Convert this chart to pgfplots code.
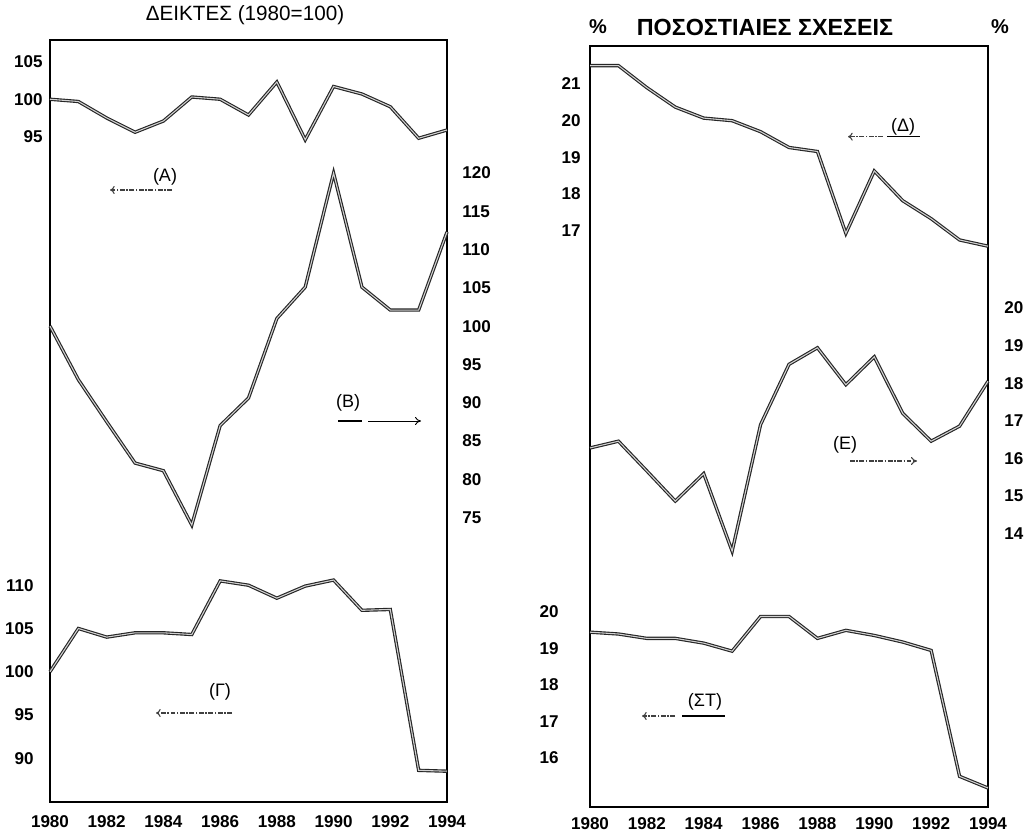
\documentclass[border=0pt]{standalone}
\usepackage{fontspec}
\setmainfont{Liberation Sans}
\usepackage{pgfplots}
\pgfplotsset{compat=1.18}
\usetikzlibrary{arrows.meta}

\pgfplotstableread{
year A B G
1980 100.0 100.0 100.0
1981 99.7 93.0 105.0
1982 97.5 87.5 104.0
1983 95.6 82.1 104.5
1984 97.1 81.1 104.5
1985 100.3 74.0 104.3
1986 100.0 87.0 110.5
1987 97.9 90.6 110.0
1988 102.3 101.0 108.5
1989 94.6 105.1 109.9
1990 101.7 120.0 110.6
1991 100.7 105.1 107.1
1992 99.0 102.1 107.2
1993 94.8 102.1 88.6
1994 95.9 112.3 88.5
}\lefttab

\pgfplotstableread{
year D E ST
1980 21.50 16.28 19.45
1981 21.50 16.46 19.40
1982 20.90 15.67 19.28
1983 20.37 14.87 19.28
1984 20.07 15.60 19.15
1985 20.00 13.54 18.93
1986 19.70 16.90 19.88
1987 19.27 18.50 19.88
1988 19.16 18.94 19.28
1989 16.93 17.96 19.50
1990 18.63 18.70 19.36
1991 17.82 17.20 19.18
1992 17.33 16.46 18.95
1993 16.75 16.86 15.50
1994 16.58 18.05 15.18
}\righttab

\pgfplotsset{
  panel/.style={scale only axis, xmin=1980, xmax=1994, anchor=south west,
    major tick length=0pt, /pgf/number format/assume math mode=true,
    /pgf/number format/1000 sep={},
    ticklabel style={font=\bfseries\fontsize{12.8}{13}\selectfont},
    clip=false},
  over/.style={axis line style={draw=none}, xtick=\empty},
}
\tikzset{
  ser/.style={line width=0.85pt, black!85, double=gray!35, double distance=0.8pt},
  ann/.style={font=\fontsize{13.5}{14}\selectfont},
  arr/.style={line width=0.8pt, black!75, dash pattern=on 3.5pt off 1.2pt on 1.2pt off 1.2pt},
}

\begin{document}
\begin{tikzpicture}
\path[use as bounding box] (0,0) rectangle (773.25pt,627pt);

% ---------------- LEFT PANEL ----------------
\begin{axis}[panel, at={(37.5pt,25.5pt)}, width=297.75pt, height=571.5pt,
  axis line style={line width=1.6pt},
  xtick={1980,1982,...,1994}, xticklabel style={yshift=-6.5pt},
  ymin=6.3, ymax=107.9, ytick={95,100,105}, yticklabel style={xshift=-2pt}]
\addplot[ser, mark=none] table[x=year,y=A] {\lefttab};
\end{axis}
\begin{axis}[panel, over, at={(37.5pt,25.5pt)}, width=297.75pt, height=571.5pt,
  ymin=37.8, ymax=137.4, ytick={75,80,...,120}, yticklabel pos=right,
  yticklabel style={xshift=8pt}]
\addplot[ser, mark=none] table[x=year,y=B] {\lefttab};
\end{axis}
\begin{axis}[panel, over, at={(37.5pt,25.5pt)}, width=297.75pt, height=571.5pt,
  ymin=84.94, ymax=173.03, ytick={90,95,...,110},
  yticklabel style={xshift=-8.75pt}]
\addplot[ser, mark=none] table[x=year,y=G] {\lefttab};
\end{axis}

% ---------------- RIGHT PANEL ----------------
\begin{axis}[panel, at={(442.5pt,21.75pt)}, width=298.5pt, height=570.75pt,
  axis line style={line width=1.6pt},
  xtick={1980,1982,...,1994}, xticklabel style={yshift=-4.5pt},
  ymin=1.30, ymax=22.035, ytick={17,18,...,21}, yticklabel style={xshift=-3.5pt}]
\addplot[ser, mark=none] table[x=year,y=D] {\righttab};
\end{axis}
\begin{axis}[panel, over, at={(442.5pt,21.75pt)}, width=298.5pt, height=570.75pt,
  ymin=6.75, ymax=26.95, ytick={14,15,...,20}, yticklabel pos=right,
  yticklabel style={xshift=8.75pt}]
\addplot[ser, mark=none] table[x=year,y=E] {\righttab};
\end{axis}
\begin{axis}[panel, over, at={(442.5pt,21.75pt)}, width=298.5pt, height=570.75pt,
  ymin=14.66, ymax=35.51, ytick={16,17,...,20},
  yticklabel style={xshift=-20pt}]
\addplot[ser, mark=none] table[x=year,y=ST] {\righttab};
\end{axis}

% ---------------- TITLES ----------------
\node[font=\fontsize{15.5}{16}\selectfont] at (183.75pt,615.75pt) {ΔΕΙΚΤΕΣ (1980=100)};
\node[font=\bfseries\fontsize{17.5}{18}\selectfont] at (573.75pt,606.75pt) {ΠΟΣΟΣΤΙΑΙΕΣ ΣΧΕΣΕΙΣ};
\node[font=\bfseries\fontsize{15}{16}\selectfont] at (448.5pt,606.75pt) {\%};
\node[font=\bfseries\fontsize{15}{16}\selectfont] at (750pt,606.75pt) {\%};

% ---------------- ANNOTATIONS ----------------
% (A)
\node[ann] at (123.75pt,494.25pt) {(Α)};
\draw[arr,-{To[length=3.5pt,width=6pt]}] (129pt,484.5pt) -- (82.5pt,484.5pt);
% (B)
\node[ann] at (261pt,324.75pt) {(Β)};
\draw[line width=1.4pt] (253.5pt,311.25pt) -- (271.5pt,311.25pt);
\draw[line width=0.7pt,-{To[length=4.5pt,width=6pt]}] (276pt,311.25pt) -- (315.75pt,311.25pt);
% (Gamma)
\node[ann] at (165pt,108pt) {(Γ)};
\draw[arr,-{To[length=3.5pt,width=6pt]}] (174pt,92.25pt) -- (117pt,92.25pt);
% (Delta)
\node[ann] at (677.25pt,531.75pt) {(Δ)};
\draw[line width=0.9pt] (665.25pt,524.5pt) -- (690pt,524.5pt);
\draw[arr,-{To[length=3.5pt,width=6pt]}] (662.25pt,524.5pt) -- (636pt,524.5pt);
% (E)
\node[ann] at (633.75pt,293.25pt) {(Ε)};
\draw[arr,-{To[length=4.5pt,width=6pt]}] (637.5pt,281.25pt) -- (687.75pt,281.25pt);
% (ST)
\node[ann] at (528.75pt,100.5pt) {(ΣΤ)};
\draw[line width=0.9pt] (511.5pt,90pt) -- (543.75pt,90pt);
\draw[arr,-{To[length=3.5pt,width=6pt]}] (506.25pt,90pt) -- (481.5pt,90pt);
\end{tikzpicture}
\end{document}
